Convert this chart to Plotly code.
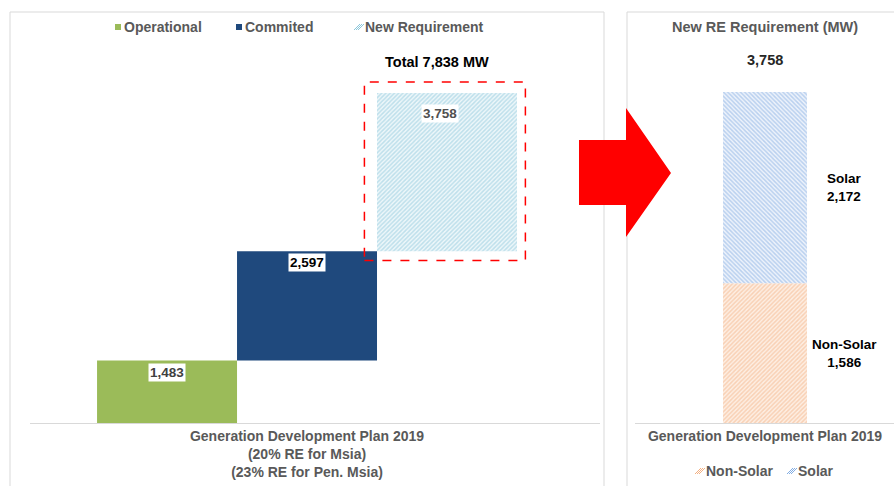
import plotly.graph_objects as go

W, H = 894, 486

# ---- data ----
left_names = ["Operational", "Commited", "New Requirement"]
left_values = [1483, 2597, 3758]
left_category = "Generation Development Plan 2019<br>(20% RE for Msia)<br>(23% RE for Pen. Msia)"
total_label = "Total 7,838 MW"

right_names = ["Non-Solar", "Solar"]
right_values = [1586, 2172]
right_category = "Generation Development Plan 2019"
right_title = "New RE Requirement (MW)"
right_total_label = "3,758"

FONT = "Liberation Sans, Arial, sans-serif"
GREY = "#595959"

def px(x):
    return x / W

def py(y):
    return 1 - y / H

fig = go.Figure()

left_colors = ["#9BBB59", "#1F497D", "#8CC7DB"]
left_styles = [
    dict(color="#9BBB59"),
    dict(color="#1F497D"),
    dict(color="#EEF7FA", pattern=dict(shape="/", fgcolor="#8CC7DB", bgcolor="#EEF7FA",
                                       size=3, solidity=0.5)),
]
bases = []
acc = 0
for v in left_values:
    bases.append(acc)
    acc += v
total = acc

for i, (n, v, b, st) in enumerate(zip(left_names, left_values, bases, left_styles)):
    fig.add_trace(go.Bar(
        x=[i], y=[v], base=[b], width=1.0, name=n,
        marker=dict(line=dict(width=0), **st),
        xaxis="x", yaxis="y", hoverinfo="skip", showlegend=False,
    ))

right_styles = [
    dict(shape="/", fgcolor="#F4B183", bgcolor="#FDEFE4"),
    dict(shape="\\", fgcolor="#84AEE3", bgcolor="#EEF3FB"),
]
rb = 0
rbases = []
for n, v, st in zip(right_names, right_values, right_styles):
    rbases.append(rb)
    fig.add_trace(go.Bar(
        x=[0], y=[v], base=[rb], width=1.0, name=n,
        marker=dict(color=st["bgcolor"], line=dict(width=0),
                    pattern=dict(shape=st["shape"], fgcolor=st["fgcolor"],
                                 bgcolor=st["bgcolor"], size=3, solidity=0.5)),
        xaxis="x2", yaxis="y2", hoverinfo="skip", showlegend=False,
    ))
    rb += v
rtotal = rb

annotations = []
shapes = []

label_font = [dict(color="#404040"), dict(color="black"), dict(color="#505050")]
yshifts = [-12, -11, -20]
for i, (v, b) in enumerate(zip(left_values, bases)):
    annotations.append(dict(
        x=i - (0.05 if i == 2 else 0), y=b + v, xref="x", yref="y",
        text=f"<b>{v:,}</b>", showarrow=False, yshift=yshifts[i],
        bgcolor="white", borderpad=1,
        font=dict(family=FONT, size=13.5, **label_font[i]),
    ))
annotations.append(dict(
    x=1.93, y=total, xref="x", yref="y", text=f"<b>{total_label}</b>",
    showarrow=False, yshift=31, font=dict(family=FONT, size=14.5, color="black"),
))
for n, v, b in zip(right_names, right_values, rbases):
    annotations.append(dict(
        x=0.95, y=b + v / 2, xref="x2", yref="y2",
        text=f"<b>{n}<br>{v:,}</b>", showarrow=False,
        font=dict(family=FONT, size=13.5, color="black"),
    ))
annotations.append(dict(
    x=0, y=rtotal, xref="x2", yref="y2", text=f"<b>{right_total_label}</b>",
    showarrow=False, yshift=32, font=dict(family=FONT, size=14.5, color="#262626"),
))
annotations.append(dict(
    x=0, y=rtotal, xref="x2", yref="y2", text=f"<b>{right_title}</b>",
    showarrow=False, yshift=65, font=dict(family=FONT, size=14.5, color=GREY),
))

def legend_item(x_icon, y, name, color, hatched=False):
    s = 3
    shapes.append(dict(type="rect", xref="paper", yref="paper",
                       x0=px(x_icon - s), x1=px(x_icon + s), y0=py(y + s), y1=py(y - s),
                       fillcolor=color if not hatched else "white",
                       line=dict(width=0)))
    if hatched:
        for k in range(-1, 2):
            shapes.append(dict(type="line", xref="paper", yref="paper",
                               x0=px(x_icon - s + 2 * k), y0=py(y + s),
                               x1=px(x_icon + s + 2 * k), y1=py(y - s),
                               line=dict(color=color, width=1)))
    annotations.append(dict(x=px(x_icon + 4), y=py(y), xref="paper", yref="paper",
                            xanchor="left", yanchor="middle", showarrow=False,
                            text=f"<b>{name}</b>",
                            font=dict(family=FONT, size=14, color=GREY)))

left_legend_x = [118, 239, 359]
for n, c, xi, hatched in zip(left_names, left_colors, left_legend_x, [False, False, True]):
    legend_item(xi, 27, n, c, hatched)

right_legend_x = [700, 792]
for n, st, xi in zip(right_names, right_styles, right_legend_x):
    legend_item(xi, 471, n, st["fgcolor"], True)

shapes.append(dict(type="rect", xref="paper", yref="paper",
                   x0=px(10), x1=px(604), y0=py(500), y1=py(12),
                   line=dict(color="#D9D9D9", width=1)))
shapes.append(dict(type="rect", xref="paper", yref="paper",
                   x0=px(627), x1=px(905), y0=py(500), y1=py(12),
                   line=dict(color="#D9D9D9", width=1)))
shapes.append(dict(type="rect", xref="x", yref="y",
                   x0=2 - 0.59, x1=2 + 0.56, y0=bases[2] - 220, y1=total + 260,
                   line=dict(color="#FF0000", width=1.5, dash="dash")))
arrow_pts = [(579, 140), (626, 140), (626, 108), (671, 173), (626, 237), (626, 205), (579, 205)]
path = "M " + " L ".join(f"{px(x):.5f},{py(y):.5f}" for x, y in arrow_pts) + " Z"
shapes.append(dict(type="path", xref="paper", yref="paper", path=path,
                   fillcolor="#FF0000", line=dict(width=0)))

fig.update_layout(
    width=W, height=H,
    margin=dict(l=0, r=0, t=0, b=0),
    paper_bgcolor="white", plot_bgcolor="white",
    barmode="overlay",
    font=dict(family=FONT, color=GREY),
    xaxis=dict(domain=[px(30), px(600)], range=[-0.979, 3.093],
               tickvals=[1], ticktext=[f"<b>{left_category}</b>".replace("<br>", "</b><br><b>")],
               showgrid=False, zeroline=False,
               showline=True, linecolor="#D9D9D9", ticks="",
               tickfont=dict(family=FONT, size=14, color=GREY)),
    yaxis=dict(domain=[py(423), py(80)], range=[0, (423 - 80) / 0.0421],
               visible=False),
    xaxis2=dict(domain=[px(635), 1.0], range=[-1.548, 1.536], anchor="y2",
                tickvals=[0], ticktext=[f"<b>{right_category}</b>"],
                showgrid=False, zeroline=False,
                showline=True, linecolor="#D9D9D9", ticks="",
                tickfont=dict(family=FONT, size=14, color=GREY)),
    yaxis2=dict(domain=[py(423), py(80)], range=[0, (423 - 80) / 0.0881],
                visible=False, anchor="x2"),
    annotations=annotations,
    shapes=shapes,
    showlegend=False,
)

fig.write_html("out.html", config={"displayModeBar": False},
               post_script="document.body.style.margin='0';")
